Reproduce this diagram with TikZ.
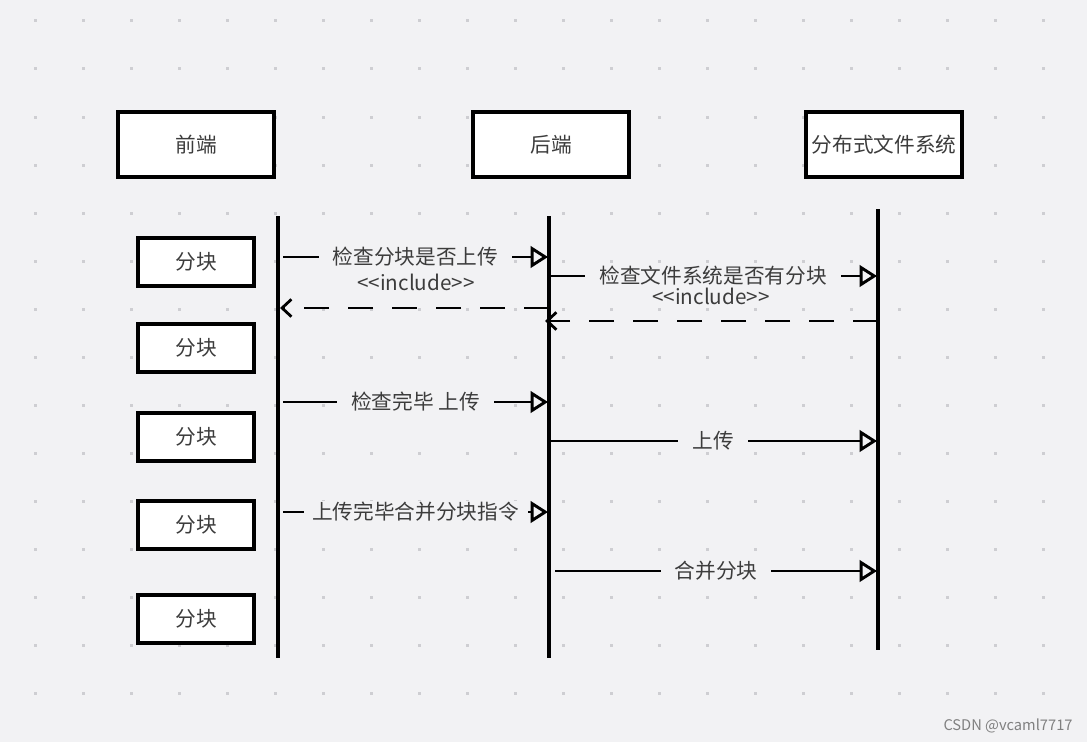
\documentclass[tikz,border=0pt]{standalone}
\usepackage{fontspec}
\setmainfont{Noto Sans CJK SC}
\usetikzlibrary{arrows.meta}
\definecolor{canvas}{RGB}{242,242,244}
\definecolor{griddot}{RGB}{206,206,210}
\definecolor{labeltxt}{RGB}{60,60,60}
\tikzset{
	actor/.style={draw, line width=3pt, fill=white, minimum width=117pt, minimum height=49pt, inner sep=0pt, text=labeltxt, font=\fontsize{15.5}{18}\selectfont},
	chunk/.style={draw, line width=3pt, fill=white, minimum width=87pt, minimum height=36.5pt, inner sep=0pt, text=labeltxt, font=\fontsize{15.5}{18}\selectfont},
	lifeline/.style={line width=2.4pt},
	msg/.style={line width=1.9pt, -{Triangle[open, length=13pt, width=16pt, line width=2.2pt]}},
	reply/.style={line width=2.1pt, dash pattern=on 19pt off 14pt, -{Straight Barb[length=7pt, width=13pt, line width=2.1pt]}},
	msglabel/.style={fill=canvas, inner xsep=10.5pt, inner ysep=1pt, text=labeltxt, font=\fontsize{15.5}{18}\selectfont},
	stereo/.style={inner sep=0.75pt, text=labeltxt, font=\fontsize{15.5}{17}\selectfont}
}
\begin{document}
\begin{tikzpicture}[x=0.75pt,y=0.75pt,yscale=-1,xscale=1]
				%set diagram to the size of the screenshot
				\fill [canvas] (0,0) rectangle (1087,742);
				\useasboundingbox (0,0) rectangle (1087,742);
				
				%Dot grid
				\foreach \i in {0,...,21}
					\foreach \j in {0,...,14}
						\fill [griddot] (33.5+48*\i,19.5+48*\j) rectangle ++(3,3);
				
				%Shape: Rectangle (actors)
				\node [actor] (front) at (196,144.5) {前端};
				\node [actor] (back) at (551,144.5) {后端};
				\node [actor] (dfs) at (884,144.5) {分布式文件系统};
				
				%Lifelines
				\coordinate (fronttop) at (278,216);
				\coordinate (frontend) at (278,658);
				\coordinate (backtop) at (549,216);
				\coordinate (backend) at (549,658);
				\coordinate (dfstop) at (878,209);
				\coordinate (dfsend) at (878,650);
				\draw [lifeline] (fronttop) -- (frontend);
				\draw [lifeline] (backtop) -- (backend);
				\draw [lifeline] (dfstop) -- (dfsend);
				
				%Shape: Rectangle (chunks)
				\foreach \y [count=\k] in {262,348,437,525,619}
					\node [chunk] (chunk\k) at (196,\y) {分块};
				
				%Straight Lines: check chunk
				\coordinate (ask1) at (283,257);
				\coordinate (get1) at (548,257);
				\draw [msg] (ask1) -- node [msglabel] (lab1) {检查分块是否上传} (get1);
				\node [stereo] (inc1) at (416,282) {<\kern0pt<include>\kern0pt>};
				
				%Straight Lines: check file system
				\coordinate (ask2) at (549,276);
				\coordinate (get2) at (877,276);
				\draw [msg] (ask2) -- node [msglabel] (lab2) {检查文件系统是否有分块} (get2);
				\node [stereo] (inc2) at (711,296) {<\kern0pt<include>\kern0pt>};
				
				%Dashed Lines: answers
				\coordinate (ret1s) at (549,308);
				\coordinate (ret1e) at (280,308);
				\draw [reply] (ret1s) -- (ret1e);
				\coordinate (ret2s) at (878,321);
				\coordinate (ret2e) at (545,321);
				\draw [reply] (ret2s) -- (ret2e);
				
				%Straight Lines: upload
				\coordinate (ask3) at (283,402);
				\coordinate (get3) at (548,402);
				\draw [msg] (ask3) -- node [msglabel] (lab3) {检查完毕 上传} (get3);
				\coordinate (ask4) at (549,441);
				\coordinate (get4) at (877,441);
				\draw [msg] (ask4) -- node [msglabel] (lab4) {上传} (get4);
				
				%Straight Lines: merge
				\coordinate (ask5) at (283,512);
				\coordinate (get5) at (548,512);
				\draw [msg] (ask5) -- node [msglabel, inner xsep=6.5pt] (lab5) {上传完毕合并分块指令} (get5);
				\coordinate (ask6) at (555,571);
				\coordinate (get6) at (877,571);
				\draw [msg] (ask6) -- node [msglabel] (lab6) {合并分块} (get6);
				
				% Text Node
				\node [inner sep=0.75pt, text=gray, font=\fontsize{11}{13}\selectfont] (mark) at (1008,726) {CSDN @vcaml7717};
\end{tikzpicture}
\end{document}
